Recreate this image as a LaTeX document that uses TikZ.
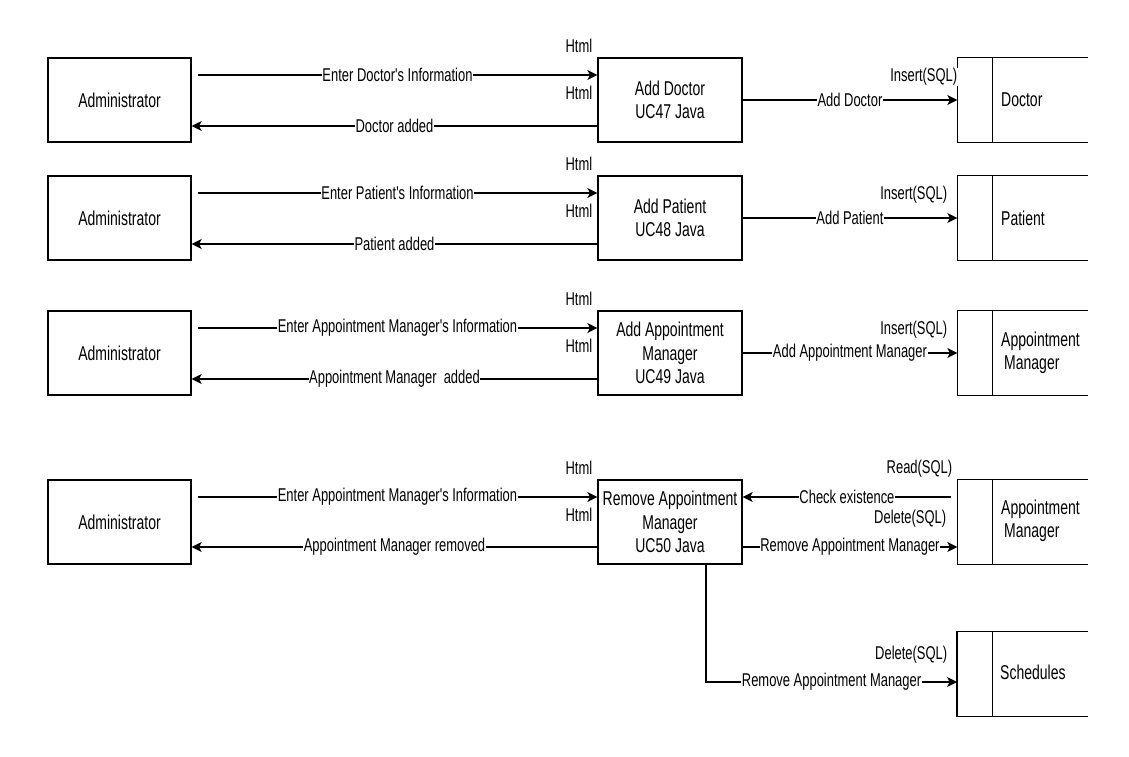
\documentclass[tikz,border=0pt]{standalone}
\usepackage{fontspec}
\newfontfamily\dfdfont{Liberation Sans}[FakeStretch=0.7]
\usetikzlibrary{arrows.meta,calc}
\tikzset{
  boxtext/.style={font=\dfdfont\fontsize{20}{23.5}\selectfont},
  adminbox/.style={draw, line width=1.2pt, minimum width=143pt, minimum height=84pt, inner sep=0pt, align=center, boxtext},
  procbox/.style={draw, line width=1.2pt, minimum width=144pt, minimum height=84pt, inner sep=0pt, align=center, boxtext},
  storebox/.style={minimum width=130.5pt, minimum height=84pt, inner sep=0pt},
  storetext/.style={anchor=west, align=left, inner sep=0pt, boxtext},
  storeline/.style={line width=1.2pt},
  lab/.style={fill=white, inner sep=0.6pt, font=\dfdfont\fontsize{18.5}{21}\selectfont},
  sidelab/.style={anchor=east, fill=white, inner sep=0.6pt, font=\dfdfont\fontsize{18.5}{21}\selectfont},
  conn/.style={line width=1.2pt, -{Stealth[length=10pt,width=10pt,inset=2.5pt]}},
}
\begin{document}
\begin{tikzpicture}[x=1pt,y=-1pt]
\useasboundingbox (0,0) rectangle (1129,756);

% ---------- Row 1 ----------
\node[adminbox] (a1) at (119.5,100) {Administrator};
\node[procbox] (p1) at (670,100) {Add Doctor\\UC47 Java};
\node[storebox] (s1) at (1022.75,100) {};
\draw[storeline] (s1.north east) -- (s1.north west) -- (s1.south west) -- (s1.south east);
\draw[storeline] ([xshift=35.5pt]s1.north west) -- ([xshift=35.5pt]s1.south west);
\node[storetext] (t1) at (1001,100) {Doctor};
\node[sidelab] (h1a) at (593,46) {Html};
\node[sidelab] (h1b) at (593,93) {Html};
\node[sidelab] (q1) at (958,77) {Insert(SQL)};
\draw[conn] ([xshift=6pt,yshift=25pt]a1.east) -- ([yshift=25pt]p1.west) node[lab,midway] {Enter Doctor's Information};
\draw[conn] ([yshift=-26pt]p1.west) -- ([yshift=-26pt]a1.east) node[lab,midway] {Doctor added};
\draw[conn] (p1.east) -- (s1.west) node[lab,midway] {Add Doctor};

% ---------- Row 2 ----------
\node[adminbox] (a2) at (119.5,218) {Administrator};
\node[procbox] (p2) at (670,218) {Add Patient\\UC48 Java};
\node[storebox] (s2) at (1022.75,218) {};
\draw[storeline] (s2.north east) -- (s2.north west) -- (s2.south west) -- (s2.south east);
\draw[storeline] ([xshift=35.5pt]s2.north west) -- ([xshift=35.5pt]s2.south west);
\node[storetext] (t2) at (1001,218) {Patient};
\node[sidelab] (h2a) at (593,164) {Html};
\node[sidelab] (h2b) at (593,211) {Html};
\node[sidelab] (q2) at (948,195) {Insert(SQL)};
\draw[conn] ([xshift=6pt,yshift=25pt]a2.east) -- ([yshift=25pt]p2.west) node[lab,midway] {Enter Patient's Information};
\draw[conn] ([yshift=-26pt]p2.west) -- ([yshift=-26pt]a2.east) node[lab,midway] {Patient added};
\draw[conn] (p2.east) -- (s2.west) node[lab,midway] {Add Patient};

% ---------- Row 3 ----------
\node[adminbox] (a3) at (119.5,353) {Administrator};
\node[procbox] (p3) at (670,353) {Add Appointment\\Manager\\UC49 Java};
\node[storebox] (s3) at (1022.75,353) {};
\draw[storeline] (s3.north east) -- (s3.north west) -- (s3.south west) -- (s3.south east);
\draw[storeline] ([xshift=35.5pt]s3.north west) -- ([xshift=35.5pt]s3.south west);
\node[storetext] (t3) at (1001,353) {Appointment\\\hspace*{3pt}Manager};
\node[sidelab] (h3a) at (593,299) {Html};
\node[sidelab] (h3b) at (593,346) {Html};
\node[sidelab] (q3) at (948,330) {Insert(SQL)};
\draw[conn] ([xshift=6pt,yshift=25pt]a3.east) -- ([yshift=25pt]p3.west) node[lab,midway] {Enter Appointment Manager's Information};
\draw[conn] ([yshift=-26pt]p3.west) -- ([yshift=-26pt]a3.east) node[lab,midway] {Appointment Manager\ \ added};
\draw[conn] (p3.east) -- (s3.west) node[lab,midway] {Add Appointment Manager};

% ---------- Row 4 ----------
\node[adminbox] (a4) at (119.5,522) {Administrator};
\node[procbox] (p4) at (670,522) {Remove Appointment\\Manager\\UC50 Java};
\node[storebox] (s4) at (1022.75,522) {};
\draw[storeline] (s4.north east) -- (s4.north west) -- (s4.south west) -- (s4.south east);
\draw[storeline] ([xshift=35.5pt]s4.north west) -- ([xshift=35.5pt]s4.south west);
\node[storetext] (t4) at (1001,521) {Appointment\\\hspace*{3pt}Manager};
\node[sidelab] (h4a) at (593,468) {Html};
\node[sidelab] (h4b) at (593,515) {Html};
\node[sidelab] (r4) at (953,469) {Read(SQL)};
\node[sidelab] (d4) at (947,519) {Delete(SQL)};
\draw[conn] ([xshift=6pt,yshift=25pt]a4.east) -- ([yshift=25pt]p4.west) node[lab,midway] {Enter Appointment Manager's Information};
\draw[conn] ([yshift=-25pt]p4.west) -- ([yshift=-25pt]a4.east) node[lab,midway] {Appointment Manager removed};
\draw[conn] ([xshift=-6pt,yshift=25pt]s4.west) -- ([yshift=25pt]p4.east) node[lab,midway] {Check existence};
\draw[conn] ([yshift=-25pt]p4.east) -- ([yshift=-25pt]s4.west) node[lab,midway] {Remove Appointment Manager\ };

% ---------- Schedules ----------
\node[storebox] (s5) at (1022.5,674) {};
\draw[storeline] (s5.north east) -- (s5.north west) -- (s5.south west) -- (s5.south east);
\draw[storeline] ([xshift=35.5pt]s5.north west) -- ([xshift=35.5pt]s5.south west);
\node[storetext] (t5) at (1000,672) {Schedules};
\node[sidelab] (d5) at (948,655) {Delete(SQL)};
\draw[conn] ([xshift=36pt]p4.south) |- ([yshift=-8pt]s5.west) node[lab,pos=0.75] {Remove Appointment Manager};
\end{tikzpicture}
\end{document}
